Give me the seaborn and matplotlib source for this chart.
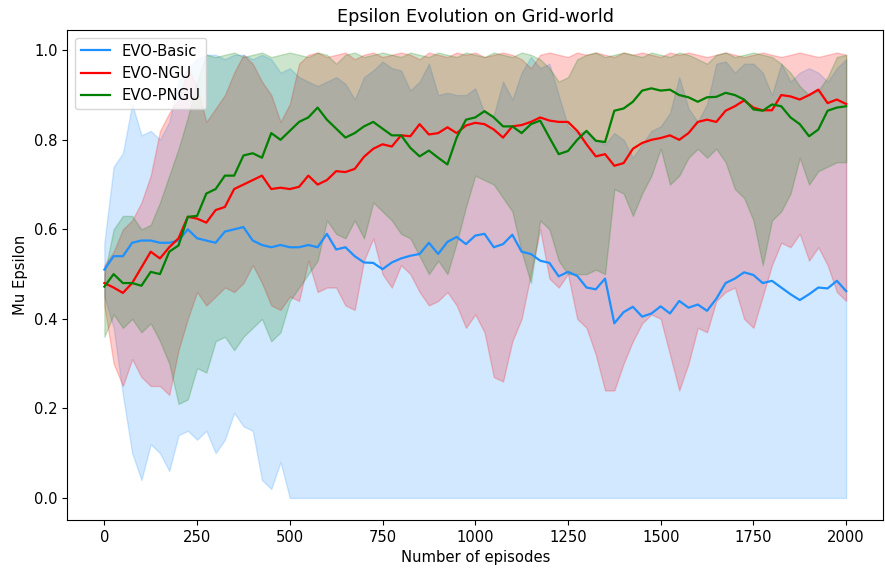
import numpy as np
import pandas as pd
import matplotlib
matplotlib.use("Agg")
import matplotlib.pyplot as plt
import seaborn as sns

episodes = np.arange(0, 2001, 25)

basic_mean = [
    0.51, 0.54, 0.54, 0.57, 0.575, 0.575, 0.57, 0.57, 0.575, 0.60,
    0.58, 0.575, 0.57, 0.595, 0.60, 0.605, 0.575, 0.565, 0.56, 0.565,
    0.56, 0.56, 0.565, 0.56, 0.59, 0.555, 0.56, 0.54, 0.526, 0.525,
    0.511, 0.526, 0.535, 0.541, 0.545, 0.57, 0.545, 0.572, 0.583, 0.567,
    0.586, 0.59, 0.56, 0.567, 0.588, 0.55, 0.545, 0.53, 0.525, 0.495,
    0.505, 0.496, 0.47, 0.466, 0.49, 0.39, 0.415, 0.427, 0.405, 0.412,
    0.428, 0.412, 0.44, 0.425, 0.432, 0.418, 0.445, 0.48, 0.49, 0.504,
    0.498, 0.48, 0.485, 0.47, 0.455, 0.442, 0.455, 0.47, 0.468, 0.485,
    0.462,
]
basic_low = [
    0.45, 0.38, 0.23, 0.10, 0.04, 0.12, 0.10, 0.06, 0.14, 0.15,
    0.13, 0.15, 0.10, 0.13, 0.19, 0.16, 0.15, 0.04, 0.02, 0.08,
] + [0.0] * 61
basic_high = [
    0.57, 0.74, 0.77, 0.88, 0.81, 0.82, 0.80, 0.84, 0.93, 0.96,
    0.98, 0.99, 0.99, 0.98, 0.99, 0.99, 0.98, 0.99, 0.98, 0.95,
    0.96, 0.94, 0.93, 0.92, 0.93, 0.94, 0.925, 0.89, 0.94, 0.955,
    0.975, 0.96, 0.955, 0.91, 0.93, 0.97, 0.90, 0.905, 0.90, 0.90,
    0.915, 0.86, 0.855, 0.93, 0.89, 0.95, 0.985, 0.96, 0.97, 0.90,
    0.83, 0.815, 0.82, 0.80, 0.79, 0.815, 0.80, 0.76, 0.79, 0.82,
    0.83, 0.86, 0.94, 0.87, 0.84, 0.88, 0.97, 0.975, 0.95, 0.97,
    0.97, 0.95, 0.90, 0.97, 0.93, 0.95, 0.96, 0.95, 0.93, 0.96,
    0.98,
]

ngu_mean = [
    0.48, 0.47, 0.458, 0.48, 0.515, 0.55, 0.535, 0.56, 0.58, 0.628,
    0.624, 0.615, 0.643, 0.65, 0.69, 0.70, 0.71, 0.72, 0.69, 0.693,
    0.69, 0.695, 0.72, 0.70, 0.71, 0.73, 0.728, 0.735, 0.762, 0.78,
    0.79, 0.785, 0.81, 0.808, 0.835, 0.812, 0.815, 0.828, 0.815, 0.832,
    0.838, 0.835, 0.823, 0.805, 0.83, 0.833, 0.84, 0.85, 0.843, 0.84,
    0.84, 0.82, 0.79, 0.763, 0.768, 0.742, 0.748, 0.78, 0.793, 0.80,
    0.804, 0.81, 0.80, 0.815, 0.84, 0.845, 0.84, 0.865, 0.875, 0.888,
    0.872, 0.866, 0.866, 0.90, 0.897, 0.89, 0.90, 0.912, 0.882, 0.89,
    0.88,
]
ngu_low = [
    0.43, 0.30, 0.25, 0.31, 0.27, 0.25, 0.25, 0.23, 0.33, 0.40,
    0.46, 0.43, 0.45, 0.47, 0.46, 0.48, 0.52, 0.48, 0.43, 0.42,
    0.45, 0.44, 0.53, 0.46, 0.47, 0.47, 0.43, 0.42, 0.53, 0.58,
    0.50, 0.47, 0.52, 0.50, 0.46, 0.43, 0.44, 0.46, 0.43, 0.38,
    0.41, 0.37, 0.27, 0.26, 0.35, 0.40, 0.50, 0.60, 0.49, 0.47,
    0.50, 0.40, 0.38, 0.32, 0.24, 0.24, 0.30, 0.35, 0.39, 0.41,
    0.40, 0.32, 0.24, 0.30, 0.38, 0.37, 0.44, 0.46, 0.47, 0.40,
    0.38, 0.45, 0.52, 0.57, 0.56, 0.59, 0.53, 0.56, 0.52, 0.46,
    0.44,
]
ngu_high = [
    0.52, 0.55, 0.60, 0.62, 0.66, 0.72, 0.82, 0.86, 0.89, 0.96,
    0.92, 0.84, 0.87, 0.90, 0.95, 0.99, 0.97, 0.93, 0.90, 0.84,
    0.88, 0.97, 0.99, 0.995, 0.985, 0.99, 0.995, 0.98, 0.99, 0.995,
    0.985, 0.99, 0.995, 0.99, 0.98, 0.995, 0.99, 0.985, 0.995, 0.99,
    0.995, 0.985, 0.99, 0.995, 0.99, 0.98, 0.96, 0.99, 0.995, 0.99,
    0.985, 0.995, 0.99, 0.995, 0.99, 0.985, 0.995, 0.99, 0.995, 0.99,
    0.985, 0.995, 0.99, 0.995, 0.99, 0.985, 0.99, 0.995, 0.99, 0.985,
    0.99, 0.995, 0.99, 0.985, 0.99, 0.995, 0.99, 0.985, 0.99, 0.995,
    0.99,
]

pngu_mean = [
    0.472, 0.50, 0.48, 0.48, 0.474, 0.505, 0.50, 0.55, 0.564, 0.628,
    0.63, 0.68, 0.69, 0.72, 0.72, 0.765, 0.77, 0.76, 0.815, 0.80,
    0.82, 0.84, 0.85, 0.872, 0.845, 0.825, 0.805, 0.815, 0.83, 0.84,
    0.825, 0.81, 0.81, 0.782, 0.763, 0.776, 0.76, 0.745, 0.805, 0.845,
    0.85, 0.864, 0.85, 0.83, 0.83, 0.815, 0.835, 0.843, 0.805, 0.768,
    0.775, 0.80, 0.82, 0.798, 0.795, 0.865, 0.87, 0.885, 0.91, 0.915,
    0.91, 0.912, 0.90, 0.895, 0.885, 0.895, 0.896, 0.905, 0.90, 0.89,
    0.868, 0.865, 0.879, 0.875, 0.85, 0.835, 0.808, 0.823, 0.865, 0.872,
    0.875,
]
pngu_low = [
    0.36, 0.41, 0.38, 0.40, 0.37, 0.39, 0.35, 0.30, 0.21, 0.22,
    0.29, 0.28, 0.35, 0.36, 0.33, 0.36, 0.38, 0.40, 0.35, 0.37,
    0.44, 0.47, 0.50, 0.53, 0.62, 0.59, 0.58, 0.62, 0.58, 0.66,
    0.64, 0.62, 0.59, 0.58, 0.54, 0.50, 0.53, 0.50, 0.57, 0.65,
    0.72, 0.71, 0.70, 0.67, 0.64, 0.55, 0.48, 0.62, 0.60, 0.53,
    0.50, 0.50, 0.50, 0.51, 0.50, 0.69, 0.68, 0.63, 0.68, 0.72,
    0.78, 0.70, 0.72, 0.76, 0.78, 0.76, 0.78, 0.75, 0.69, 0.67,
    0.62, 0.52, 0.62, 0.64, 0.68, 0.76, 0.70, 0.73, 0.74, 0.75,
    0.75,
]
pngu_high = [
    0.50, 0.60, 0.63, 0.63, 0.60, 0.61, 0.66, 0.72, 0.78, 0.85,
    0.93, 0.99, 0.985, 0.99, 0.995, 0.985, 0.99, 0.995, 0.985, 0.99,
    0.995, 0.99, 0.985, 0.995, 0.99, 0.97, 0.99, 0.995, 0.985, 0.99,
    0.995, 0.99, 0.985, 0.995, 0.99, 0.985, 0.995, 0.99, 0.985, 0.995,
    0.99, 0.985, 0.995, 0.99, 0.985, 0.995, 0.99, 0.98, 0.96, 0.93,
    0.94, 0.98, 0.99, 0.995, 0.985, 0.99, 0.995, 0.99, 0.985, 0.995,
    0.99, 0.985, 0.995, 0.99, 0.98, 0.97, 0.99, 0.995, 0.985, 0.99,
    0.995, 0.99, 0.985, 0.97, 0.95, 0.92, 0.90, 0.91, 0.94, 0.985,
    0.99,
]

series = [
    ("EVO-Basic", basic_mean, basic_low, basic_high, "dodgerblue"),
    ("EVO-NGU", ngu_mean, ngu_low, ngu_high, "red"),
    ("EVO-PNGU", pngu_mean, pngu_low, pngu_high, "green"),
]

frames = []
for name, mean, low, high, _ in series:
    frames.append(pd.DataFrame({"episode": episodes, "mu": mean, "method": name}))
df = pd.concat(frames, ignore_index=True)

plt.rcParams.update({
    "font.size": 10.6,
    "axes.titlesize": 12.7,
    "axes.labelsize": 10.6,
    "xtick.labelsize": 10.6,
    "ytick.labelsize": 10.6,
    "legend.fontsize": 10.6,
})

fig, ax = plt.subplots(figsize=(8.85, 5.71), dpi=100)
fig.subplots_adjust(left=0.076, right=0.998, bottom=0.089, top=0.947)

# shaded spread for each method, drawn first so the mean lines sit on top
for name, mean, low, high, color in series:
    ax.fill_between(episodes, low, high, color=color, alpha=0.2, zorder=1)

palette = {name: color for name, _, _, _, color in series}
sns.lineplot(data=df, x="episode", y="mu", hue="method", palette=palette,
             linewidth=1.6, ax=ax, zorder=3)

ax.set_xticks(np.arange(0, 2001, 250))
ax.set_yticks(np.arange(0, 1.01, 0.2))
ax.set_title("Epsilon Evolution on Grid-world")
ax.set_xlabel("Number of episodes")
ax.set_ylabel("Mu Epsilon")
ax.legend(loc="upper left", title=None)

fig.savefig("out.png", dpi=100)
